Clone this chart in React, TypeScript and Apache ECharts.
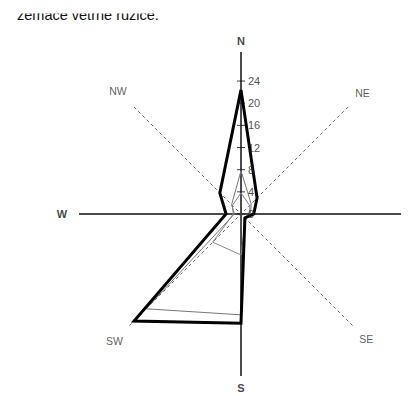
import { useEffect, useRef } from 'react';
import * as echarts from 'echarts';

const directions = ['N', 'NE', 'E', 'SE', 'S', 'SW', 'W', 'NW'];
const boldLabels = ['N', 'S', 'W'];
const shownLabels = ['N', 'NE', 'SE', 'S', 'SW', 'W', 'NW'];
const mainValues = [22.4, 4.1, 2.3, 1.0, 19.7, 27.3, 2.7, 5.4];
const secondValues = [7.8, 2.6, 1.7, 0.8, 18.2, 24.2, 1.2, 2.4];
const thirdValues = [3.8, 2.2, 1.6, 1.2, 7.4, 7.2, 1.4, 2.2];
const tickValues = [0, 4, 8, 12, 16, 20, 24];
const titleText = 'zemace vetrne ruzice.';

// layout: how far (in radial units) each line / label reaches
const cardinalReach: Record<string, number> = { N: 29.6, E: 28.9, S: 30.9, W: 29.4 };
const diagonalReach: Record<string, number> = { NE: 27.3, SE: 28.5, SW: 29, NW: 27.3 };
const labelReach: Record<string, number> = { N: 31.2, NE: 31.0, SE: 32.0, S: 31.4, SW: 32.3, W: 32.3, NW: 31.4 };
const radiusMax = 29.24;
const FONT = '"Liberation Sans", Arial, sans-serif';
const STEP = 360 / directions.length;

const angleOf = (d: string) => directions.indexOf(d) * STEP;

function closed(vals: number[]) {
  const pts = directions.map((d, i) => [vals[i], angleOf(d)]);
  pts.push([vals[0], 360]);
  return pts;
}

function axisLine(a: string, b: string, reach: Record<string, number>, dashed: boolean) {
  return {
    type: 'line',
    coordinateSystem: 'polar',
    data: [[reach[a], angleOf(a)], [0, angleOf(a)], [reach[b], angleOf(b)]],
    symbol: 'none',
    clip: false,
    silent: true,
    z: 1,
    lineStyle: dashed
      ? { color: '#666', width: 1, type: [3, 3] }
      : { color: '#111', width: 1.5 },
  };
}

export default function App() {
  const ref = useRef<HTMLDivElement>(null);
  useEffect(() => {
    if (!ref.current) return;
    const chart = echarts.init(ref.current, undefined, { renderer: 'svg' });
    chart.setOption({
      animation: false,
      backgroundColor: '#fff',
      polar: { center: [241, 214], radius: 162 },
      angleAxis: {
        type: 'value',
        min: 0,
        max: 360,
        interval: STEP,
        startAngle: 90,
        axisLine: { show: false },
        axisTick: { show: false },
        splitLine: { show: false },
        axisLabel: { show: false },
      },
      radiusAxis: {
        min: 0,
        max: radiusMax,
        axisLine: { show: false },
        axisTick: { show: false },
        axisLabel: { show: false },
        splitLine: { show: false },
      },
      graphic: [
        {
          type: 'text',
          x: 17,
          y: 15,
          z: 10,
          style: { text: titleText, fill: '#111', font: `14.5px ${FONT}`, verticalAlign: 'middle' },
        },
        {
          type: 'rect',
          z: 20,
          shape: { x: 0, y: 0, width: 200, height: 13.5 },
          style: { fill: '#fff' },
        },
      ],
      series: [
        axisLine('N', 'S', cardinalReach, false),
        axisLine('W', 'E', cardinalReach, false),
        axisLine('NE', 'SW', diagonalReach, true),
        axisLine('NW', 'SE', diagonalReach, true),
        {
          type: 'line',
          coordinateSystem: 'polar',
          data: closed(thirdValues),
          symbol: 'none',
          clip: false,
          z: 2,
          lineStyle: { color: '#888', width: 1 },
        },
        {
          type: 'line',
          coordinateSystem: 'polar',
          data: closed(secondValues),
          symbol: 'none',
          clip: false,
          z: 2,
          lineStyle: { color: '#777', width: 1 },
        },
        {
          type: 'line',
          coordinateSystem: 'polar',
          data: closed(mainValues),
          symbol: 'none',
          clip: false,
          z: 3,
          lineStyle: { color: '#000', width: 3, join: 'miter', miterLimit: 10 },
        },
        {
          type: 'scatter',
          coordinateSystem: 'polar',
          data: tickValues.map((v) => [v, 0]),
          symbol: 'rect',
          symbolSize: [8, 1],
          clip: false,
          z: 4,
          itemStyle: { color: '#111' },
          label: {
            show: true,
            position: 'right',
            distance: 3,
            formatter: (p: any) => String(p.value[0]),
            fontSize: 11,
            color: '#222',
            fontFamily: FONT,
          },
        },
        {
          type: 'scatter',
          coordinateSystem: 'polar',
          data: shownLabels.map((d) => ({ name: d, value: [labelReach[d], angleOf(d)] })),
          symbol: 'circle',
          symbolSize: 1,
          itemStyle: { color: 'rgba(255,255,255,0)' },
          clip: false,
          silent: true,
          z: 4,
          label: {
            show: true,
            position: 'inside',
            formatter: (p: any) => (boldLabels.includes(p.name) ? `{b|${p.name}}` : `{n|${p.name}}`),
            rich: {
              b: { fontWeight: 'bold', fontSize: 11, color: '#111', fontFamily: FONT },
              n: { fontSize: 10.5, color: '#333', fontFamily: FONT },
            },
          },
        },
      ],
    });
    return () => chart.dispose();
  }, []);
  return <div ref={ref} style={{ position: 'fixed', left: 0, top: 0, width: 411, height: 396 }} />;
}
